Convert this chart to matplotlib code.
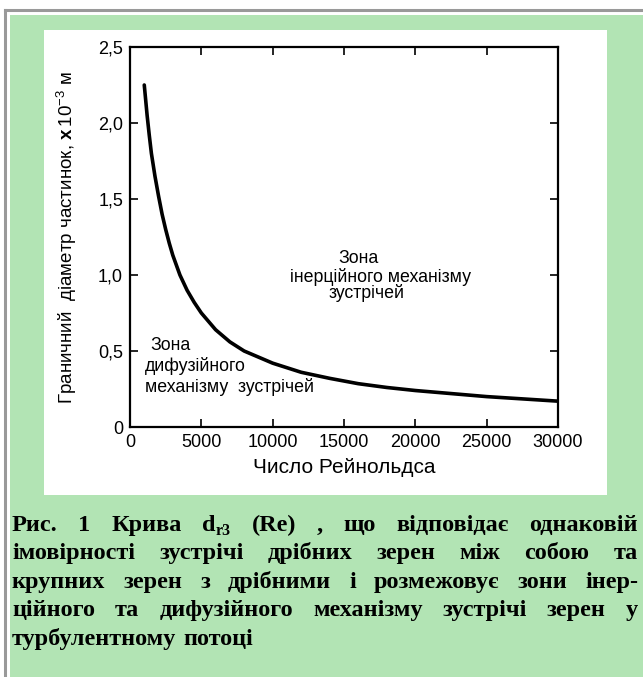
import matplotlib
matplotlib.use('Agg')
import matplotlib.pyplot as plt
from matplotlib.patches import Rectangle

plt.rcParams['font.family'] = ['Liberation Sans', 'DejaVu Sans']
plt.rcParams['mathtext.fontset'] = 'custom'
plt.rcParams['mathtext.rm'] = 'Liberation Sans'
plt.rcParams['mathtext.bf'] = 'Liberation Sans:bold'

# curve d_r3(Re)
re_vals = [1000, 1100, 1200, 1350, 1500, 1750, 2000, 2250, 2500, 2750, 3000, 3500, 4000,
           4500, 5000, 6000, 7000, 8000, 9000, 10000, 12000, 14000, 16000, 18000, 20000,
           22500, 25000, 27500, 30000]
d_vals = [2.25, 2.15, 2.05, 1.92, 1.80, 1.65, 1.52, 1.40, 1.30, 1.21, 1.13, 1.00, 0.90,
          0.82, 0.75, 0.64, 0.56, 0.50, 0.46, 0.42, 0.36, 0.32, 0.285, 0.26, 0.24,
          0.22, 0.20, 0.185, 0.17]

x_ticks = [0, 5000, 10000, 15000, 20000, 25000, 30000]
y_ticks = [0, 0.5, 1.0, 1.5, 2.0, 2.5]
y_tick_labels = ['0', '0,5', '1,0', '1,5', '2,0', '2,5']

caption_lines = [
    ['Рис.', '1', 'Крива', 'd|r3', '(Re)', ',', 'що', 'відповідає', 'однаковій'],
    ['імовірності', 'зустрічі', 'дрібних', 'зерен', 'між', 'собою', 'та'],
    ['крупних', 'зерен', 'з', 'дрібними', 'і', 'розмежовує', 'зони', 'інер-'],
    ['ційного', 'та', 'дифузійного', 'механізму', 'зустрічі', 'зерен', 'у'],
    ['турбулентному', 'потоці'],
]

W, H = 643, 677
fig = plt.figure(figsize=(W / 100, H / 100), dpi=100)
fig.patch.set_facecolor('white')

# background layer in pixel coordinates
bg = fig.add_axes([0, 0, 1, 1])
bg.set_xlim(0, W)
bg.set_ylim(H, 0)
bg.axis('off')
bg.plot([4.5, 4.5], [9.5, H], color='#999999', lw=2.2)
bg.plot([4.5, W], [9.5, 9.5], color='#999999', lw=2.2)
bg.add_patch(Rectangle((10, 15), W - 10, H - 15, facecolor='#b2e4b4', edgecolor='none'))
bg.add_patch(Rectangle((44, 30), 563, 465, facecolor='white', edgecolor='none'))

# main plot
left, right, top, bottom = 130, 558, 47, 427
ax = fig.add_axes([left / W, 1 - bottom / H, (right - left) / W, (bottom - top) / H])
ax.patch.set_alpha(0)
ax.plot(re_vals, d_vals, color='black', lw=2.6, solid_capstyle='round')
ax.set_xlim(0, 30000)
ax.set_ylim(0, 2.5)
ax.set_xticks(x_ticks)
ax.set_xticklabels([str(t) for t in x_ticks])
ax.set_yticks(y_ticks)
ax.set_yticklabels(y_tick_labels)
ax.tick_params(direction='in', length=6, width=1.2, top=True, right=True,
               labelsize=13, pad=5)
for s in ax.spines.values():
    s.set_linewidth(1.6)
ax.set_xlabel('Число Рейнольдса', fontsize=15, labelpad=5)
ax.set_ylabel(r'Граничний  діаметр частинок, $\mathbf{x}\,10^{-3}$ м', fontsize=13.5)
ax.yaxis.set_label_coords(-0.118, 0.5)

ann = 12.8
ax.text(14580, 1.11, 'Зона', fontsize=ann, va='center')
ax.text(11210, 0.99, 'інерційного механізму', fontsize=ann, va='center')
ax.text(13950, 0.88, 'зустрічей', fontsize=ann, va='center')
ax.text(1400, 0.535, 'Зона', fontsize=ann, va='center')
ax.text(1050, 0.40, 'дифузійного', fontsize=ann, va='center')
ax.text(1050, 0.265, 'механізму  зустрічей', fontsize=ann, va='center')

# justified caption
cap_size = 17.5
cap_font = dict(family='Liberation Serif', weight='bold', fontsize=cap_size)
sub_font = dict(family='Liberation Serif', weight='bold', fontsize=cap_size * 0.66)
x0, x1 = 12, 638
base0, step = 531, 28.4
renderer = fig.canvas.get_renderer()


def text_width(s, font):
    t = bg.text(0, 0, s, **font)
    wd = t.get_window_extent(renderer).width
    t.remove()
    return wd


def word_width(w):
    if '|' in w:
        main, sub = w.split('|')
        return text_width(main, cap_font) + text_width(sub, sub_font)
    return text_width(w, cap_font)


for i, words in enumerate(caption_lines):
    y = base0 + i * step
    widths = [word_width(w) for w in words]
    if i < len(caption_lines) - 1:
        gap = (x1 - x0 - sum(widths)) / (len(words) - 1)
    else:
        gap = text_width('н', cap_font) * 0.5
    x = x0
    for w, wd in zip(words, widths):
        if '|' in w:
            main, sub = w.split('|')
            bg.text(x, y, main, va='baseline', **cap_font)
            mw = text_width(main, cap_font)
            bg.text(x + mw, y + 4, sub, va='baseline', **sub_font)
        else:
            bg.text(x, y, w, va='baseline', **cap_font)
        x += wd + gap

fig.savefig('out.png', dpi=100)
